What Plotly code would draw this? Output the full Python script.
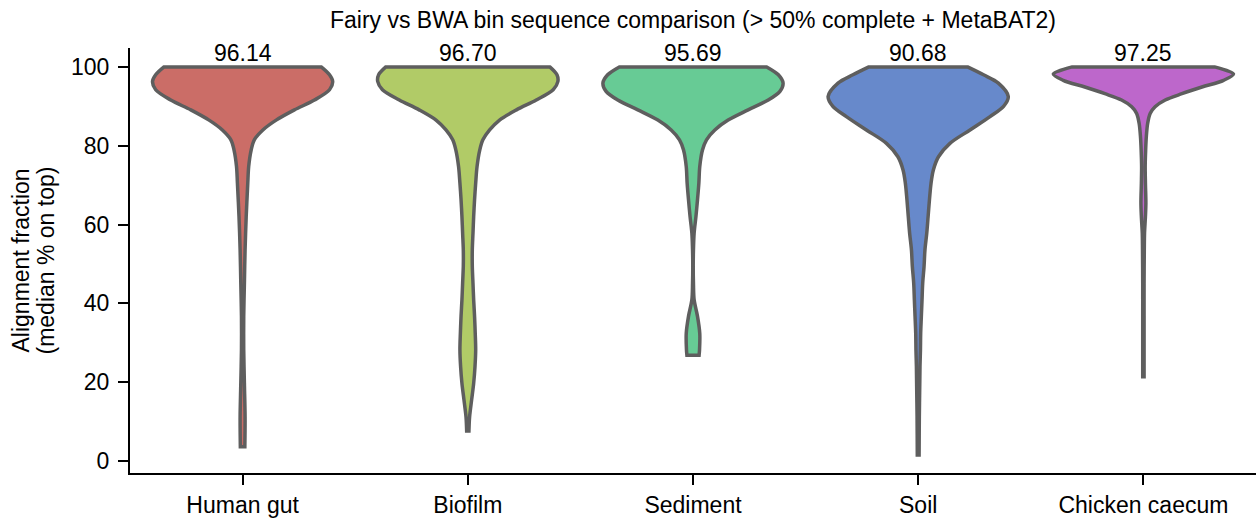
import plotly.graph_objects as go

# ---------------- data ----------------
categories = ["Human gut", "Biofilm", "Sediment", "Soil", "Chicken caecum"]
medians = [96.14, 96.70, 95.69, 90.68, 97.25]
colors = ["#cb6d67", "#b1cb67", "#67cb95", "#6789cb", "#bd67cb"]
y_ticks = [0, 20, 40, 60, 80, 100]

# violin outlines: y level and half-width (in category units), top -> bottom
human_gut_y = [100, 98.0, 96.3, 94.2, 91.6, 89.1, 86.5, 84.0, 81.5, 78.9, 74.7,
               70.5, 62.0, 53.6, 45.1, 36.6, 28.2, 19.7, 11.2, 3.6]
human_gut_hw = [0.349, 0.386, 0.400, 0.386, 0.319, 0.230, 0.149, 0.090, 0.052, 0.038,
                0.027, 0.023, 0.016, 0.011, 0.008, 0.005, 0.005, 0.008, 0.011, 0.010]

biofilm_y = [100, 98.0, 96.3, 94.2, 91.6, 89.1, 86.5, 84.0, 81.5, 78.9, 74.7, 70.5,
             66.3, 62.0, 57.8, 53.6, 49.4, 45.1, 40.9, 36.7, 32.4, 28.2, 24.0, 19.7,
             15.5, 11.2, 7.6]
biofilm_hw = [0.364, 0.396, 0.400, 0.379, 0.304, 0.216, 0.141, 0.097, 0.067, 0.053,
              0.041, 0.035, 0.030, 0.026, 0.023, 0.020, 0.020, 0.023, 0.026, 0.030,
              0.033, 0.035, 0.032, 0.026, 0.017, 0.008, 0.005]

sediment_y = [100, 98.0, 95.9, 93.8, 91.6, 89.1, 86.5, 84.0, 81.5, 78.9, 74.7, 70.5,
              66.3, 62.0, 57.8, 53.6, 49.4, 45.1, 40.9, 36.7, 32.4, 28.2, 26.8]
sediment_hw = [0.327, 0.379, 0.400, 0.386, 0.334, 0.245, 0.156, 0.097, 0.060, 0.042,
               0.030, 0.026, 0.020, 0.013, 0.005, 0.002, 0.001, 0.002, 0.005, 0.020,
               0.030, 0.029, 0.027]

soil_y = [100, 98.0, 95.9, 92.5, 90.0, 87.4, 84.0, 80.6, 77.2, 73.8, 70.5, 66.3, 62.0,
          57.8, 53.6, 49.4, 45.1, 40.9, 36.7, 32.4, 28.2, 24.0, 19.7, 11.2, 1.5]
soil_hw = [0.219, 0.290, 0.356, 0.400, 0.379, 0.319, 0.230, 0.141, 0.090, 0.067,
           0.057, 0.050, 0.044, 0.038, 0.030, 0.026, 0.020, 0.017, 0.014, 0.011,
           0.010, 0.008, 0.007, 0.005, 0.004]

chicken_y = [100, 98.2, 96.6, 94.9, 93.2, 91.6, 89.9, 88.2, 85.7, 82.3, 78.9, 74.7,
             70.5, 65.4, 62.0, 57.8, 53.6, 45.1, 36.7, 28.2, 21.4]
chicken_hw = [0.316, 0.400, 0.356, 0.260, 0.171, 0.097, 0.052, 0.030, 0.019, 0.013,
              0.010, 0.008, 0.009, 0.011, 0.009, 0.005, 0.004, 0.003, 0.003, 0.003,
              0.003]

profiles = [
    (human_gut_y, human_gut_hw),
    (biofilm_y, biofilm_hw),
    (sediment_y, sediment_hw),
    (soil_y, soil_hw),
    (chicken_y, chicken_hw),
]

FONT = "Liberation Sans, Arial, sans-serif"
EDGE = "#5e5e5e"
FS = 23

fig = go.Figure()

for i, (ys, hws) in enumerate(profiles):
    # right side bottom -> top, then left side top -> bottom, then close.
    # corner points are repeated so the spline keeps the flat cut edges straight
    xs_r = [i + w for w in reversed(hws)]
    ys_r = list(reversed(ys))
    xs_l = [i - w for w in hws]
    ys_l = list(ys)
    px = [xs_r[0]] + xs_r + [xs_r[-1]] + [xs_l[0]] + xs_l + [xs_l[-1]] + [xs_r[0]]
    py = [ys_r[0]] + ys_r + [ys_r[-1]] + [ys_l[0]] + ys_l + [ys_l[-1]] + [ys_r[0]]
    fig.add_trace(go.Scatter(
        x=px, y=py, mode="lines", fill="toself",
        fillcolor=colors[i],
        line=dict(color=EDGE, width=3.5, shape="spline", smoothing=0.9),
        hoverinfo="skip", showlegend=False,
    ))

for i, m in enumerate(medians):
    fig.add_annotation(x=i, y=100, text=f"{m:.2f}", showarrow=False,
                       xanchor="center", yanchor="bottom", yshift=-1,
                       font=dict(family=FONT, size=FS, color="black"))

fig.add_annotation(xref="paper", yref="paper", x=0, y=0.5, xshift=-110,
                   text="Alignment fraction", textangle=-90, showarrow=False,
                   xanchor="center", yanchor="middle",
                   font=dict(family=FONT, size=FS, color="black"))
fig.add_annotation(xref="paper", yref="paper", x=0, y=0.5, xshift=-85,
                   text="(median % on top)", textangle=-90, showarrow=False,
                   xanchor="center", yanchor="middle",
                   font=dict(family=FONT, size=FS, color="black"))

axis_common = dict(showline=True, linecolor="black", linewidth=2,
                   ticks="outside", ticklen=10, tickwidth=2, tickcolor="black",
                   showgrid=False, zeroline=False,
                   tickfont=dict(family=FONT, size=FS, color="black"))

fig.update_layout(
    width=1256, height=521, autosize=False,
    margin=dict(l=130, r=0, t=48, b=48),
    paper_bgcolor="white", plot_bgcolor="white",
    title=dict(text="Fairy vs BWA bin sequence comparison (> 50% complete + MetaBAT2)",
               x=0.5, xref="paper", xanchor="center",
               y=1 - 20 / 521, yref="container", yanchor="middle",
               font=dict(family=FONT, size=FS, color="black")),
    xaxis=dict(range=[-0.5, 4.5], tickvals=list(range(len(categories))),
               ticktext=categories, **axis_common),
    yaxis=dict(range=[-3.05, 104.8], tickvals=y_ticks,
               ticktext=[str(t) for t in y_ticks], ticklabelstandoff=4,
               **axis_common),
)

fig.write_html("out.html",
               config={"displayModeBar": False},
               post_script="document.body.style.margin='0px';"
                           "document.body.style.overflow='hidden';")
